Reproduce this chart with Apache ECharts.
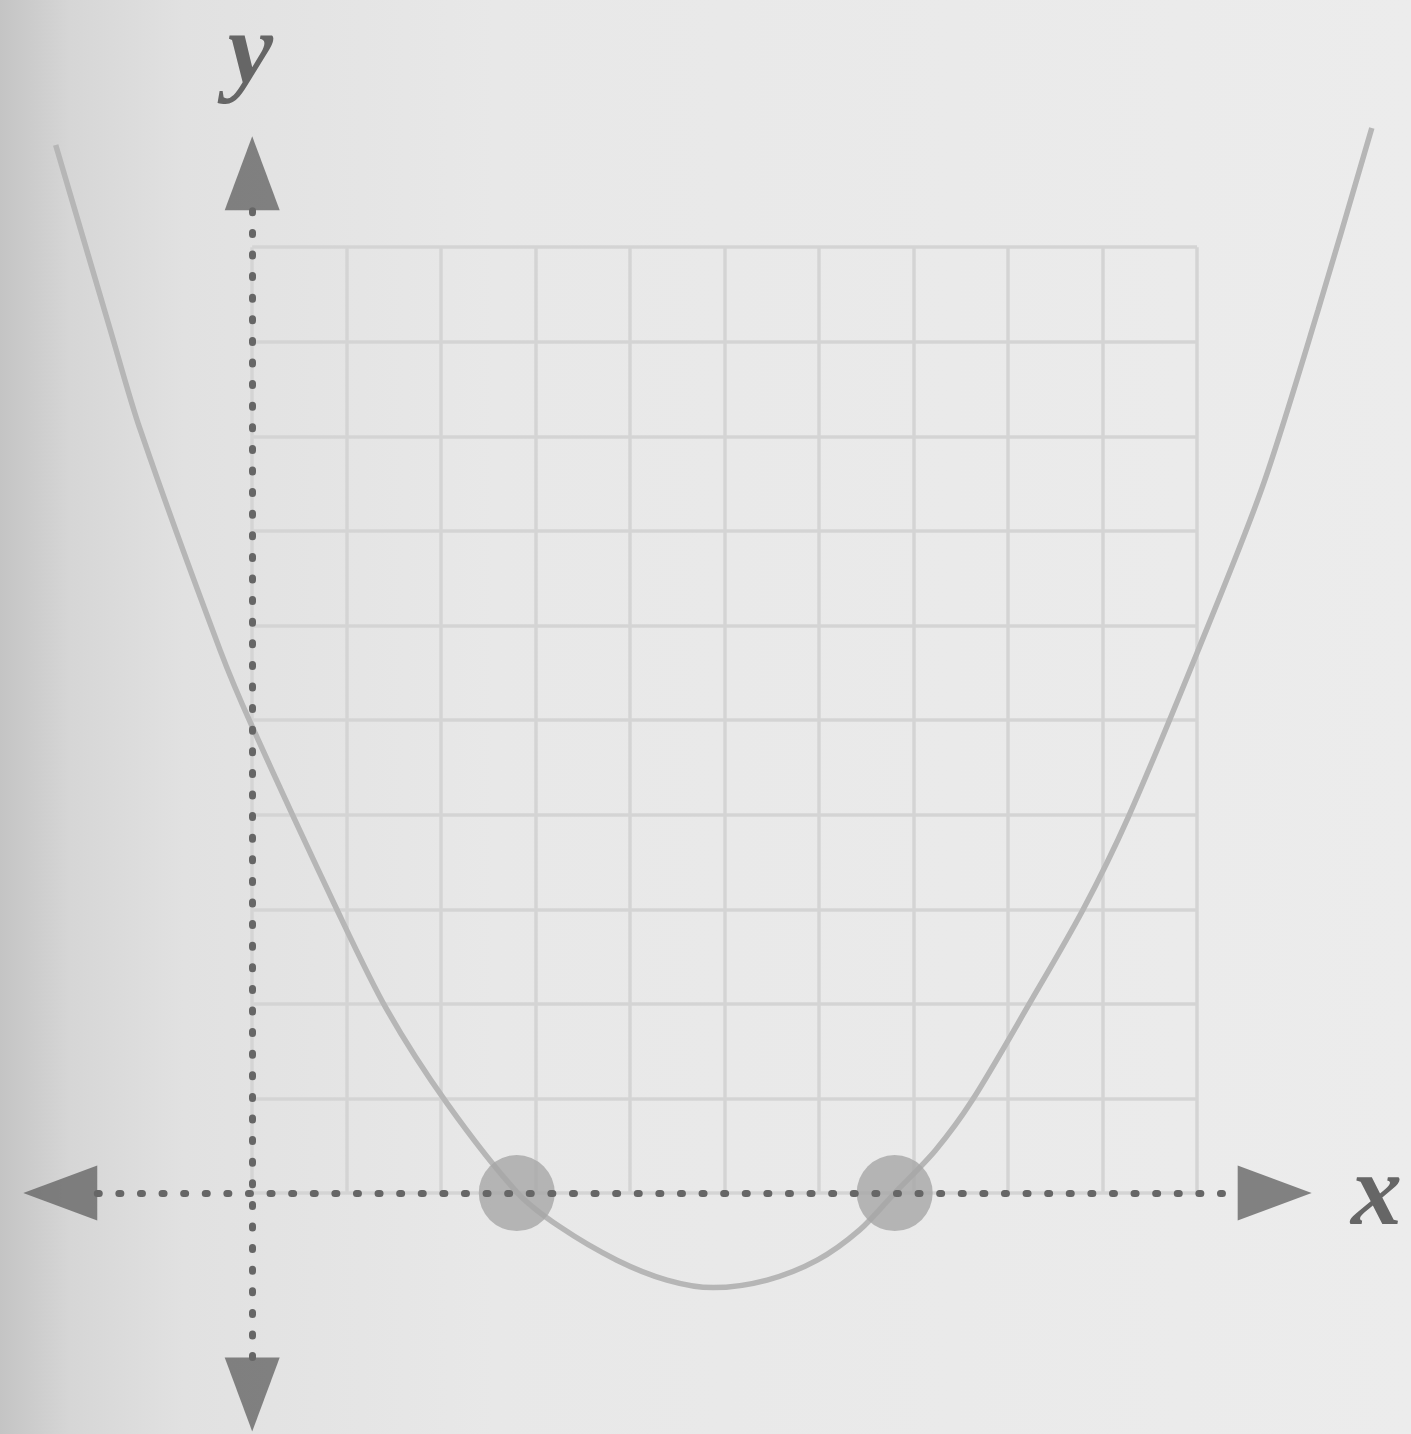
<!DOCTYPE html>
<html>
<head>
<meta charset="utf-8">
<title>Parabola with two roots</title>
<script src="https://cdn.jsdelivr.net/npm/echarts@6/dist/echarts.min.js"></script>
<style>
    html, body { margin: 0; padding: 0; }
    #chart {
        width: 1411px;
        height: 1434px;
        background: linear-gradient(to right, #c4c4c4 0%, #d6d6d6 5%, #e1e1e1 13%, #e8e8e8 35%, #ececec 100%);
    }
</style>
</head>
<body>
<div id="chart"></div>
<script>
// values (x, y in graph units)
var curvePoints = [
    [-2.08, 11.08], [-1.5, 9.12], [-1.185, 8.07], [-0.34, 5.74], [0, 4.93],
    [0.9, 2.99], [1.43, 1.93], [2.06, 0.95], [2.81, 0], [3.26, -0.36],
    [3.86, -0.71], [4.39, -0.92], [4.88, -1.0], [5.45, -0.92], [5.98, -0.71],
    [6.43, -0.39], [6.8, 0], [7.23, 0.45], [7.62, 0.98], [8.23, 2.01],
    [8.79, 2.99], [9.27, 3.97], [10.0, 5.71], [10.69, 7.46], [11.28, 9.33],
    [11.85, 11.26]
]
var roots = [[2.8, 0], [6.8, 0]]
var xAxisEnds = [-1.64, 10.43]
var yAxisEnds = [-1.74, 10.39]
var gridTicks = [0, 10]
var axisNames = ['x', 'y']

// layout of the main cartesian system
var xRange = [-2.5, 12]
var yRange = [-2.5, 12]
var plot = { left: 16, top: 58, width: 1370, height: 1371.5 }
var kx = plot.width / (xRange[1] - xRange[0])
var ky = plot.height / (yRange[1] - yRange[0])

var axisColor = '#666666'
var arrowSize = [55, 74]
var paperLine = { show: true, lineStyle: { color: '#d4d4d4', width: 3.5 } }

var axisSegments = [
    { coords: [[xAxisEnds[0], 0], [xAxisEnds[1], 0]] },
    { coords: [[0, yAxisEnds[0]], [0, yAxisEnds[1]]] }
]
// arrow heads sit just past the end of each dotted axis
var halfX = arrowSize[1] / 2 / kx
var halfY = arrowSize[1] / 2 / ky
var arrowHeads = [
    [xAxisEnds[0] - halfX, 0], [xAxisEnds[1] + halfX, 0],
    [0, yAxisEnds[1] + halfY], [0, yAxisEnds[0] - halfY]
]

var hiddenAxis = function (extra) {
    return Object.assign({
        type: 'value',
        axisLine: { show: false },
        axisTick: { show: false },
        axisLabel: { show: false },
        splitLine: { show: false }
    }, extra)
}

var chart = echarts.init(document.getElementById('chart'), null, { renderer: 'canvas' })

var option = {
    animation: false,
    backgroundColor: 'transparent',
    grid: [
        { left: plot.left, top: plot.top, width: plot.width, height: plot.height },
        {
            // the square paper grid, same scale as the main grid
            left: plot.left + (gridTicks[0] - xRange[0]) * kx,
            top: plot.top + (yRange[1] - gridTicks[1]) * ky,
            width: (gridTicks[1] - gridTicks[0]) * kx,
            height: (gridTicks[1] - gridTicks[0]) * ky
        }
    ],
    xAxis: [
        hiddenAxis({ gridIndex: 0, min: xRange[0], max: xRange[1] }),
        hiddenAxis({ gridIndex: 1, min: gridTicks[0], max: gridTicks[1], interval: 1, splitLine: paperLine })
    ],
    yAxis: [
        hiddenAxis({ gridIndex: 0, min: yRange[0], max: yRange[1] }),
        hiddenAxis({ gridIndex: 1, min: gridTicks[0], max: gridTicks[1], interval: 1, splitLine: paperLine })
    ],
    series: [
        {
            name: 'curve',
            type: 'line',
            xAxisIndex: 0,
            yAxisIndex: 0,
            data: curvePoints,
            smooth: 0.3,
            showSymbol: false,
            lineStyle: { color: '#b6b6b6', width: 5.5 },
            z: 2
        },
        {
            name: 'roots',
            type: 'scatter',
            xAxisIndex: 0,
            yAxisIndex: 0,
            data: roots,
            symbolSize: 76,
            itemStyle: { color: '#a6a6a6' },
            z: 3
        },
        {
            name: 'axes',
            type: 'lines',
            coordinateSystem: 'cartesian2d',
            xAxisIndex: 0,
            yAxisIndex: 0,
            data: axisSegments,
            symbol: 'none',
            lineStyle: { color: axisColor, width: 7, type: [2, 19.6], cap: 'round', opacity: 1 },
            silent: true,
            z: 4
        },
        {
            name: 'arrows',
            type: 'scatter',
            xAxisIndex: 0,
            yAxisIndex: 0,
            data: arrowHeads,
            symbol: 'triangle',
            symbolSize: arrowSize,
            symbolRotate: function (value) {
                if (value[1] === 0) {
                    return value[0] < 0 ? 90 : -90
                }
                return value[1] > 0 ? 0 : 180
            },
            itemStyle: { color: axisColor },
            silent: true,
            z: 5
        }
    ]
}

chart.setOption(option)

// axis letters, placed through the chart's own scale
var labelSpots = [[11.9, -0.05], [-0.02, 12.02]]
var graphics = []
for (var i = 0; i < axisNames.length; i++) {
    var p = chart.convertToPixel({ xAxisIndex: 0, yAxisIndex: 0 }, labelSpots[i])
    graphics.push({
        type: 'text',
        x: p[0],
        y: p[1],
        style: {
            text: axisNames[i],
            fill: axisColor,
            font: 'italic bold 102px "Liberation Serif", "DejaVu Serif", serif',
            align: 'center',
            verticalAlign: 'middle'
        },
        z: 10
    })
}
chart.setOption({ graphic: graphics })
</script>
</body>
</html>
